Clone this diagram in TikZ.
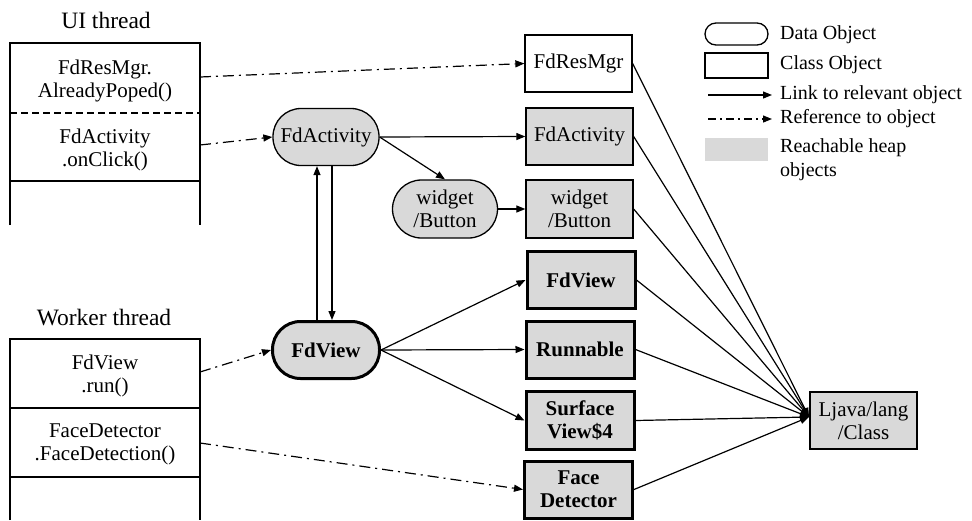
\documentclass[tikz,border=0pt]{standalone}
\usepackage{fontspec}
\setmainfont{Liberation Serif}
\usetikzlibrary{arrows.meta}
\definecolor{heap}{RGB}{217,217,217}
\begin{document}
\begin{tikzpicture}[x=1pt,y=-1pt,
  every node/.style={font=\fontsize{21}{23}\selectfont, align=center, inner sep=0pt},
  dataobj/.style={draw, line width=1.3pt, rounded corners=28pt, fill=heap,
    minimum width=106pt, minimum height=57pt},
  classobj/.style={draw, line width=1.3pt, fill=heap, minimum width=107pt, minimum height=57pt},
  plainclass/.style={classobj, fill=white},
  strong/.style={line width=3pt, font=\fontsize{21}{23}\selectfont\bfseries},
  tip/.style={-{Triangle[length=9pt,width=7pt]}},
  link/.style={tip, line width=1.2pt},
  ref/.style={tip, line width=1.2pt, dash pattern=on 11pt off 5pt on 2pt off 5pt},
  title/.style={font=\fontsize{23.5}{26}\selectfont},
  legtext/.style={anchor=west, font=\fontsize{20}{24}\selectfont, align=left}
]
\useasboundingbox (0,0) rectangle (972,520);

% ---- UI thread stack ----
\node[title] (uititle) at (106,20) {UI thread};
\draw[line width=1.8pt] (10,225) -- (10,43) -- (200,43) -- (200,225);
\draw[line width=1.2pt, dash pattern=on 7pt off 4pt] (10,113) -- (200,113);
\draw[line width=1.8pt] (10,181) -- (200,181);
\node (poped) at (105,81) {\fontsize{21}{28}\selectfont FdResMgr.\\AlreadyPoped()};
\node (click) at (105,150) {\fontsize{21}{26}\selectfont FdActivity\\.onClick()};
\coordinate (popedout) at (200,77);
\coordinate (clickout) at (200,145);

% ---- Worker thread stack ----
\node[title] (wktitle) at (104,318) {Worker thread};
\draw[line width=1.8pt] (10,520) -- (10,339) -- (200,339) -- (200,520);
\draw[line width=1.2pt] (10,408) -- (200,408);
\draw[line width=1.2pt] (10,477) -- (200,477);
\node (run) at (105,376) {\fontsize{21}{27}\selectfont FdView\\.run()};
\node (detect) at (105,444) {\fontsize{21}{26}\selectfont FaceDetector\\.FaceDetection()};
\coordinate (runout) at (200,372);
\coordinate (detectout) at (200,443);

% ---- data objects ----
\node[dataobj] (actdata) at (326,137) {FdActivity};
\node[dataobj, minimum width=105pt, minimum height=58pt, rounded corners=29pt] (btndata) at (445,209) {widget\\/Button};
\node[dataobj, strong, minimum width=107pt] (viewdata) at (326,350) {FdView};

% ---- class objects ----
\node[plainclass] (mgrcls) at (578.5,63.5) {FdResMgr};
\node[classobj] (actcls) at (579.5,136.5) {FdActivity};
\node[classobj, minimum height=58pt] (btncls) at (579.5,209) {widget\\/Button};
\node[classobj, strong, minimum width=108pt, minimum height=57pt] (viewcls) at (581,280) {FdView};
\node[classobj, strong, minimum width=108pt] (runcls) at (580,349.5) {Runnable};
\node[classobj, strong, minimum width=108pt, minimum height=58pt] (surfcls) at (580,420.5) {Surface\\View\$4};
\node[classobj, strong, minimum width=108pt] (facecls) at (578.5,489.5) {Face\\Detector};
\node[classobj, minimum height=57pt] (jlc) at (863.5,420.5) {Ljava/lang\\/Class};

% ---- references from stack frames ----
\draw[ref] (popedout) -- (mgrcls.west);
\draw[ref] (clickout) -- (actdata.west);
\draw[ref] (runout) -- (viewdata.west);
\draw[ref] (detectout) -- (facecls.west);

% ---- links between objects ----
\draw[link] (actdata.east) -- (actcls.west);
\draw[link] (actdata.east) -- (btndata.north);
\draw[link] (btndata.east) -- (btncls.west);
\draw[link] (viewdata.north -| 317,0) -- (actdata.south -| 317,0);
\draw[link] (actdata.south -| 332,0) -- (viewdata.north -| 332,0);
\draw[link] (viewdata.east) -- (viewcls.west);
\draw[link] (viewdata.east) -- (runcls.west);
\draw[link] (viewdata.east) -- (surfcls.west);

% ---- every class points to its Class object ----
\coordinate (jlcin) at (809,417);
\foreach \c in {mgrcls,actcls,btncls,viewcls,runcls,surfcls,facecls}
  \draw[link] (\c.east) -- (jlcin);

% ---- legend ----
\node[draw, line width=1.3pt, rounded corners=11pt, minimum width=63pt, minimum height=22pt] (legdata) at (736.5,34) {};
\node[legtext] (legdatat) at (780,35) {Data Object};
\node[draw, line width=1.3pt, minimum width=63pt, minimum height=25pt] (legcls) at (736.5,65.5) {};
\node[legtext] (legclst) at (780,65) {Class Object};
\coordinate (leglinka) at (708,95);
\coordinate (leglinkb) at (772,95);
\draw[link] (leglinka) -- (leglinkb);
\node[legtext] (leglinkt) at (780,95) {Link to relevant object};
\coordinate (legrefa) at (708,119);
\coordinate (legrefb) at (772,119);
\draw[ref, dash pattern=on 8pt off 4pt on 2pt off 4pt] (legrefa) -- (legrefb);
\node[legtext] (legreft) at (780,119) {Reference to object};
\node[fill=heap, minimum width=63pt, minimum height=23pt] (legheap) at (736.5,149.5) {};
\node[legtext] (legheapt) at (780,160) {Reachable heap\\objects};
\end{tikzpicture}
\end{document}
